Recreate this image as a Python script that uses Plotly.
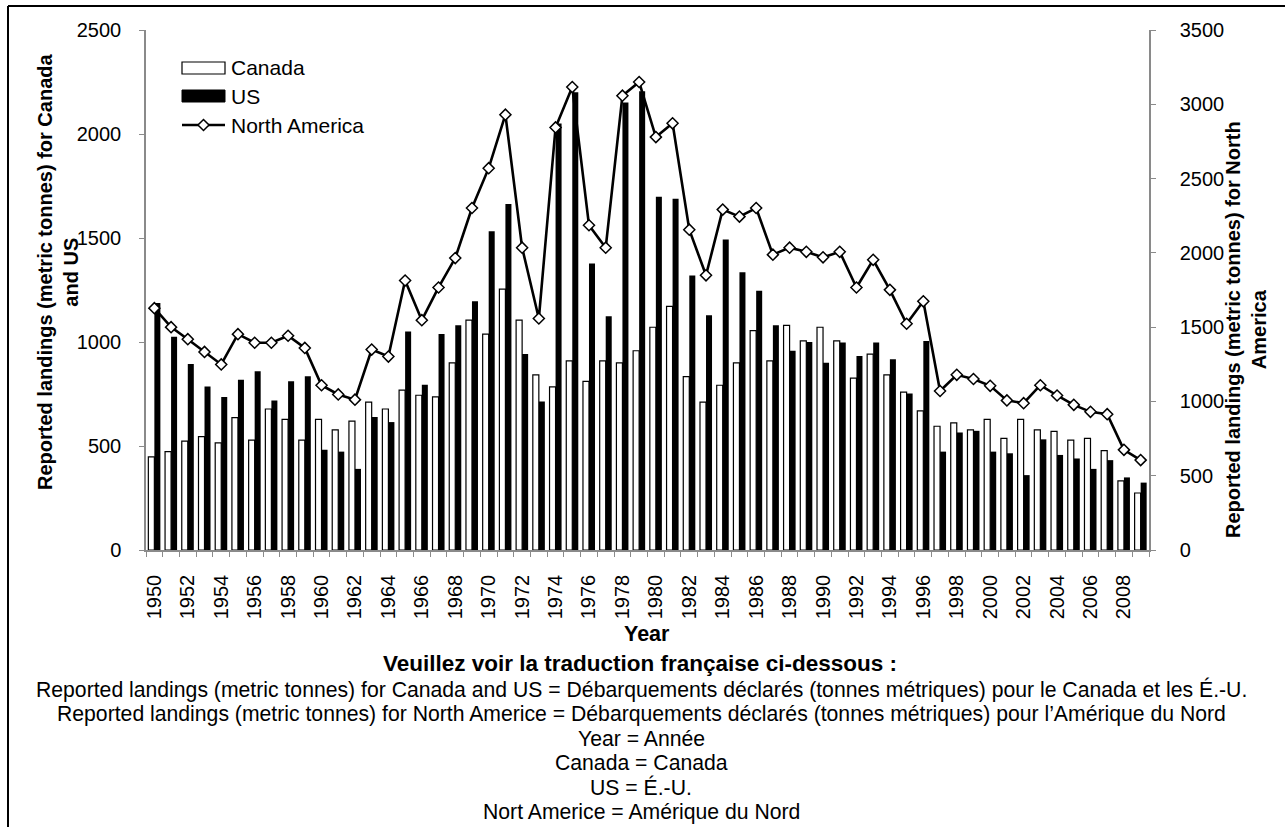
import plotly.graph_objects as go

years = list(range(1950, 2010))
canada = [448, 473, 523, 545, 515, 636, 528, 678, 628, 528,
          628, 578, 620, 711, 678, 769, 744, 736, 900, 1105,
          1038, 1254, 1105, 842, 784, 909, 811, 909, 900, 958,
          1071, 1171, 834, 711, 792, 900, 1055, 909, 1080, 1005,
          1071, 1005, 826, 942, 842, 759, 669, 595, 611, 578,
          628, 537, 628, 578, 570, 528, 537, 478, 332, 274]
us = [1188, 1025, 894, 786, 736, 819, 859, 719, 811, 835,
      482, 473, 390, 640, 615, 1050, 794, 1038, 1080, 1196,
      1533, 1664, 942, 714, 2051, 2201, 1377, 1124, 2151, 2205,
      1698, 1689, 1320, 1129, 1493, 1335, 1246, 1080, 958, 1000,
      900, 997, 933, 997, 917, 752, 1005, 473, 565, 573,
      473, 465, 360, 532, 457, 440, 390, 432, 349, 324]
north_america = [1628, 1500, 1419, 1333, 1249, 1453, 1395, 1395, 1442, 1360,
                 1109, 1047, 1012, 1349, 1302, 1814, 1547, 1767, 1965, 2302,
                 2570, 2930, 2035, 1558, 2844, 3116, 2186, 2035, 3058, 3150,
                 2779, 2872, 2156, 1849, 2291, 2244, 2302, 1988, 2035, 2007,
                 1970, 2007, 1767, 1953, 1751, 1523, 1674, 1070, 1179, 1151,
                 1105, 1007, 988, 1109, 1040, 977, 930, 914, 674, 605]
tick_years = years[::2]
tick_labels = [str(y) for y in tick_years]

left_title = "Reported landings (metric tonnes) for Canada<br>and US"
right_title = "Reported landings (metric tonnes) for North<br>America"
x_title = "Year"
note_title = "Veuillez voir la traduction française ci-dessous :"
note_lines = [
    "Reported landings (metric tonnes) for Canada and US = Débarquements déclarés (tonnes métriques) pour le Canada et les É.-U.",
    "Reported landings (metric tonnes) for North Americe = Débarquements déclarés (tonnes métriques) pour l’Amérique du Nord",
    "Year = Année",
    "Canada = Canada",
    "US = É.-U.",
    "Nort Americe = Amérique du Nord",
]

W, H = 1285, 827
L, R, T, B = 146, 136, 30, 277
PW = W - L - R
PH = H - T - B


def px(x):
    return (x - L) / PW


def py(y):
    return (H - B - y) / PH


FONT = "Liberation Sans, Arial, sans-serif"
GRAY = "#8a8a8a"

fig = go.Figure()
fig.add_bar(x=years, y=canada, name="Canada", showlegend=False,
            marker=dict(color="white", line=dict(color="black", width=1.2)))
fig.add_bar(x=years, y=us, name="US", showlegend=False,
            marker=dict(color="black", line=dict(color="black", width=0)))
fig.add_scatter(x=years, y=north_america, name="North America", yaxis="y2",
                mode="lines+markers", showlegend=False,
                line=dict(color="black", width=2.6),
                marker=dict(symbol="diamond", size=8.5, color="white",
                            line=dict(color="black", width=1.5)))

shapes = []
# outer frame (left and top edges visible)
shapes.append(dict(type="line", xref="paper", yref="paper",
                   x0=px(8), x1=px(8), y0=py(6), y1=py(840),
                   line=dict(color="black", width=2)))
shapes.append(dict(type="line", xref="paper", yref="paper",
                   x0=px(8), x1=px(1300), y0=py(6), y1=py(6),
                   line=dict(color="black", width=2)))
# custom legend keys
shapes.append(dict(type="rect", xref="paper", yref="paper",
                   x0=px(182), x1=px(225), y0=py(74), y1=py(62),
                   fillcolor="white", line=dict(color="black", width=1.2)))
shapes.append(dict(type="rect", xref="paper", yref="paper",
                   x0=px(182), x1=px(225), y0=py(102), y1=py(90),
                   fillcolor="black", line=dict(color="black", width=1)))
shapes.append(dict(type="line", xref="paper", yref="paper",
                   x0=px(182), x1=px(225), y0=py(125), y1=py(125),
                   line=dict(color="black", width=2.6)))
cx, cy, d = 203.5, 125, 5.5
shapes.append(dict(type="path", xref="paper", yref="paper",
                   path=f"M {px(cx)} {py(cy - d)} L {px(cx + d)} {py(cy)} L {px(cx)} {py(cy + d)} L {px(cx - d)} {py(cy)} Z",
                   fillcolor="white", line=dict(color="black", width=1.5)))

annotations = []
for label, yy in [("Canada", 68), ("US", 96), ("North America", 125)]:
    annotations.append(dict(text=label, xref="paper", yref="paper", x=px(229), y=py(yy),
                            xanchor="left", yanchor="middle", showarrow=False,
                            font=dict(size=21)))
annotations.append(dict(text="<b>" + left_title + "</b>", xref="paper", yref="paper",
                        x=px(58), y=py(272), xanchor="center", yanchor="middle",
                        textangle=-90, showarrow=False, font=dict(size=20)))
annotations.append(dict(text="<b>" + right_title + "</b>", xref="paper", yref="paper",
                        x=px(1246), y=py(330), xanchor="center", yanchor="middle",
                        textangle=-90, showarrow=False, font=dict(size=20)))
annotations.append(dict(text="<b>" + x_title + "</b>", xref="paper", yref="paper",
                        x=px(647), y=py(634), xanchor="center", yanchor="middle",
                        showarrow=False, font=dict(size=21.5)))
annotations.append(dict(text="<b>" + note_title + "</b>", xref="paper", yref="paper",
                        x=px(640), y=py(663), xanchor="center", yanchor="middle",
                        showarrow=False, font=dict(size=22.5)))
for i, line in enumerate(note_lines):
    annotations.append(dict(text=line, xref="paper", yref="paper",
                            x=px(641), y=py(689 + 24.6 * i), xanchor="center", yanchor="middle",
                            showarrow=False, font=dict(size=21.2)))

fig.update_layout(
    width=W, height=H,
    margin=dict(l=L, r=R, t=T, b=B, autoexpand=False),
    paper_bgcolor="white", plot_bgcolor="white",
    barmode="group", bargap=0.28, bargroupgap=0,
    font=dict(family=FONT, size=21, color="black"),
    showlegend=False,
    xaxis=dict(range=[1949.5, 2009.5], tickmode="array", tickvals=tick_years,
               ticktext=tick_labels, tickangle=-90, ticks="outside", ticklen=5,
               tickcolor="rgba(0,0,0,0)", showline=True, linecolor=GRAY, linewidth=1.5,
               showgrid=False, zeroline=False, ticklabelstandoff=10,
               tickfont=dict(size=20),
               minor=dict(tickmode="linear", tick0=1949.5, dtick=1, ticks="outside",
                          ticklen=5, tickcolor=GRAY, tickwidth=1, showgrid=False)),
    yaxis=dict(range=[0, 2500], tickmode="linear", tick0=0, dtick=500,
               ticks="outside", ticklen=5, tickcolor=GRAY, showline=True,
               linecolor=GRAY, linewidth=1.5, showgrid=False, zeroline=False,
               ticklabelstandoff=14, tickfont=dict(size=20)),
    yaxis2=dict(range=[0, 3500], tickmode="linear", tick0=0, dtick=500,
                overlaying="y", side="right",
                ticks="outside", ticklen=5, tickcolor=GRAY, showline=True,
                linecolor=GRAY, linewidth=1.5, showgrid=False, zeroline=False,
                ticklabelstandoff=20, tickfont=dict(size=20)),
    shapes=shapes,
    annotations=annotations,
)

fig.write_html("out.html", config={"displayModeBar": False},
               post_script="document.body.style.margin='0';document.body.style.overflow='hidden';")
